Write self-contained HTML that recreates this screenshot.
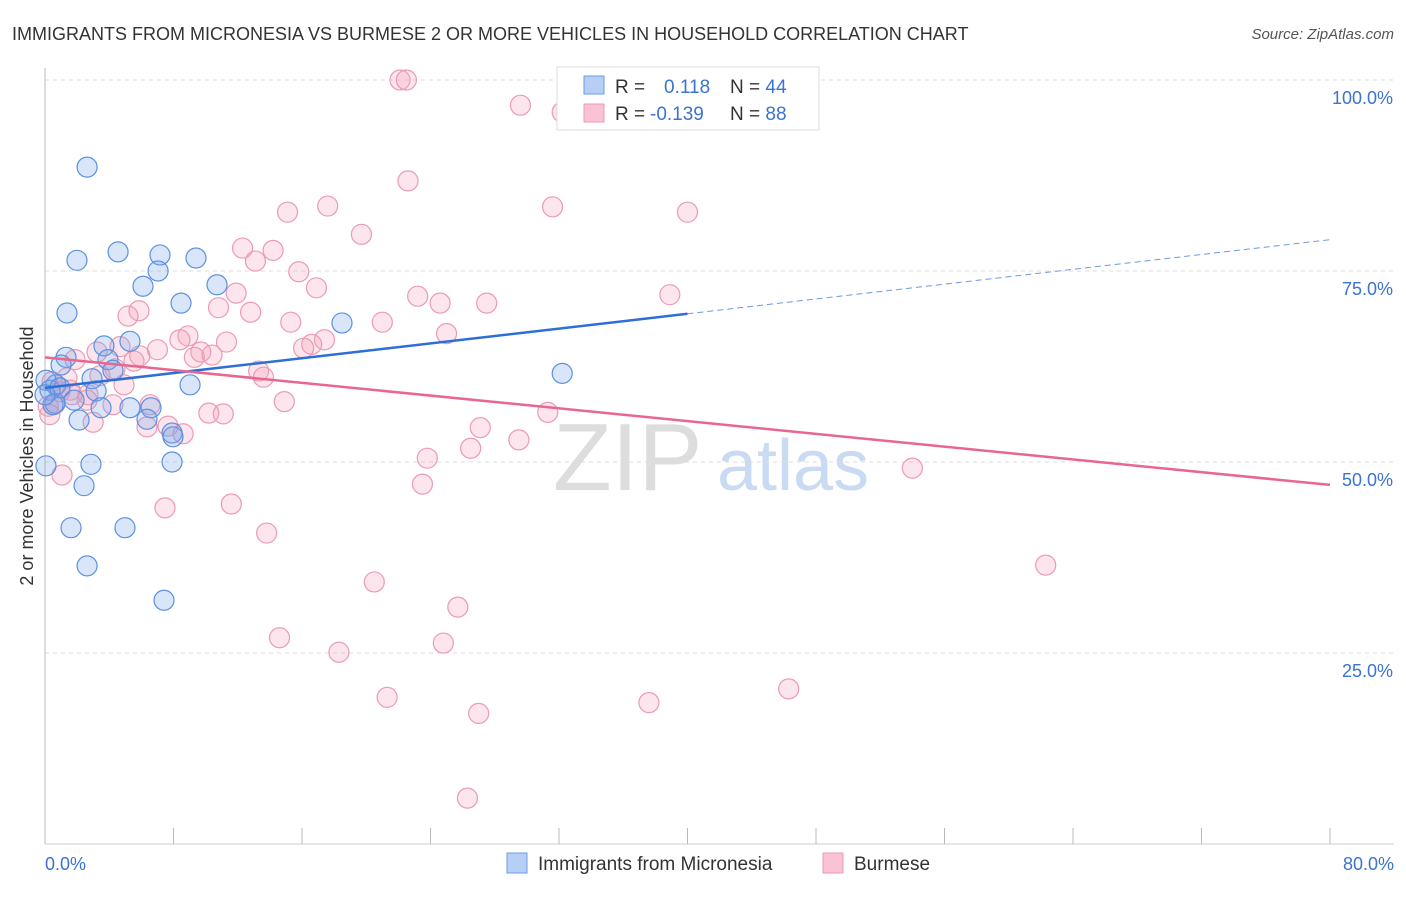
<!DOCTYPE html>
<html><head><meta charset="utf-8"><style>
body{margin:0;background:#fff;font-family:"Liberation Sans",sans-serif;}
svg text{font-family:"Liberation Sans",sans-serif;}
</style></head><body>
<svg id="chart" width="1406" height="892" viewBox="0 0 1406 892" xmlns="http://www.w3.org/2000/svg">
<text x="12" y="40" font-size="18" fill="#333">IMMIGRANTS FROM MICRONESIA VS BURMESE 2 OR MORE VEHICLES IN HOUSEHOLD CORRELATION CHART</text>
<text x="1394" y="39" font-size="15" fill="#555" font-style="italic" text-anchor="end">Source: ZipAtlas.com</text>
<g>
<text x="553" y="490" font-size="96" fill="#ddd" font-family="Liberation Serif">ZIP</text>
<text x="717" y="490" font-size="72" fill="#c9daf3">atlas</text>
</g>
<g id="grid"></g>
<g id="axes"></g>
<g id="marks"></g>
<text transform="translate(33,456) rotate(-90)" font-size="18" fill="#333" text-anchor="middle">2 or more Vehicles in Household</text>
<g>
<rect x="557" y="67" width="262" height="63" fill="#fff" stroke="#ddd"/>
<rect x="584" y="76" width="20" height="18" fill="#b7cff5" stroke="#6b9be6"/>
<rect x="584" y="104" width="20" height="18" fill="#f9c3d3" stroke="#ee9ab5"/>
<text x="615" y="93" font-size="19" fill="#333">R = <tspan fill="#3a73d0" x="664">0.118</tspan><tspan x="730">N = </tspan><tspan fill="#3a73d0">44</tspan></text>
<text x="615" y="120" font-size="19" fill="#333">R = <tspan fill="#3a73d0" x="650">-0.139</tspan><tspan x="730">N = </tspan><tspan fill="#3a73d0">88</tspan></text>
</g>
<g>
<rect x="507" y="853" width="20" height="20" fill="#b7cff5" stroke="#6b9be6"/>
<text x="538" y="870" font-size="19" fill="#333">Immigrants from Micronesia</text>
<rect x="823" y="853" width="20" height="20" fill="#f9c3d3" stroke="#ee9ab5"/>
<text x="854" y="870" font-size="19" fill="#333">Burmese</text>
</g>
</svg>
<script>
const blueX=[2.62,1.99,4.55,7.16,9.40,7.04,6.10,10.71,8.47,1.37,18.49,5.29,3.67,1.31,1.0,3.92,4.23,2.93,3.18,0.68,0.31,0.06,9.03,32.2,0.62,1.81,3.49,5.29,6.60,6.35,2.12,7.91,7.97,2.86,7.91,0.06,2.43,1.62,4.98,2.62,7.41,0.93,0.5,0.0];
const blueY=[88.6,76.4,77.5,77.1,76.7,75.0,73.0,73.2,70.8,69.5,68.2,65.8,65.2,63.7,62.7,63.4,62.0,60.9,59.3,60.1,59.4,60.7,60.1,61.6,57.7,58.1,57.1,57.1,57.1,55.6,55.5,53.8,53.3,49.7,50.0,49.5,46.9,41.4,41.4,36.4,31.9,59.7,57.5,58.8];
const pinkX=[22.1,22.5,29.6,32.2,22.6,15.1,17.6,31.6,40.0,19.7,12.3,14.2,13.1,15.8,16.9,11.9,23.2,27.5,24.6,38.9,10.8,12.8,5.85,5.17,15.3,21.0,25.0,8.9,11.3,17.4,16.6,16.1,7.0,8.4,3.24,9.7,9.3,10.4,5.54,4.36,13.3,13.6,1.37,4.92,1.56,2.62,2.68,4.23,6.54,0.62,0.2,14.9,10.2,11.1,31.3,3.0,7.66,6.35,8.6,27.1,29.5,26.5,23.8,54.0,23.5,1.06,7.47,11.6,13.8,62.3,20.5,25.7,14.6,24.8,18.3,46.3,21.3,37.6,27.0,26.3,0.93,1.68,0.44,3.42,5.9,4.67,1.87,0.3];
const pinkY=[100,100,96.7,95.8,86.8,82.7,83.5,83.4,82.7,79.8,78.0,77.7,76.3,74.9,72.8,72.1,71.7,70.8,70.8,71.9,70.2,69.6,69.8,69.1,68.3,68.3,66.8,66.5,65.7,66.0,65.4,64.9,64.7,66.0,64.4,64.4,63.7,64.0,63.2,62.2,61.9,61.1,61.0,60.1,59.4,58.1,58.8,57.5,57.5,57.6,57.3,57.9,56.4,56.3,56.5,55.2,54.7,54.6,53.7,54.5,52.9,51.8,50.5,49.2,47.1,48.3,44.0,44.5,40.7,36.5,34.3,31.0,27.0,26.3,25.1,20.3,19.2,18.5,17.1,6.0,59.2,58.8,60.5,61.3,63.9,65.1,63.4,56.2];
const blueTrend=[59.7,79.1];
const pinkTrend=[63.7,47.0];
const blueSolidEnd=40;
const yTicks=[25,50,75,100];
const yTickLabels=["25.0%","50.0%","75.0%","100.0%"];
const xTicks=[0,8,16,24,32,40,48,56,64,72,80];

const X0=45,X1=1330,Y0=844,Y1=80;
const sx=v=>X0+(v/80)*(X1-X0);
const sy=v=>Y0-(v/100)*(Y0-Y1);
const NS="http://www.w3.org/2000/svg";
function mk(tag,attrs,parent){const e=document.createElementNS(NS,tag);for(const k in attrs)e.setAttribute(k,attrs[k]);parent.appendChild(e);return e;}
const grid=document.getElementById('grid'),axes=document.getElementById('axes'),marks=document.getElementById('marks');
yTicks.forEach((t,i)=>{
  const l=mk('line',{x1:X0,x2:1394,y1:sy(t),y2:sy(t),stroke:'#ddd','stroke-dasharray':'4,4'},grid);
  
  
  const tx=mk('text',{x:1393,y:sy(t)+24,'font-size':18,fill:'#3a73d0','text-anchor':'end'},axes);
  tx.textContent=yTickLabels[i];
  
  
});
const ya=mk('line',{x1:X0,x2:X0,y1:68,y2:Y0,stroke:'#bbb'},axes);


const xa=mk('line',{x1:X0,x2:1394,y1:Y0,y2:Y0,stroke:'#ccc'},axes);


xTicks.forEach(t=>{
  const l=mk('line',{x1:sx(t),x2:sx(t),y1:828,y2:Y0,stroke:'#bbb'},axes);
  
  
});
const xl0=mk('text',{x:45,y:870,'font-size':18,fill:'#3a73d0'},axes);xl0.textContent='0.0%';


const xl1=mk('text',{x:1394,y:870,'font-size':18,fill:'#3a73d0','text-anchor':'end'},axes);xl1.textContent='80.0%';



pinkX.forEach((x,i)=>{
  const c=mk('circle',{cx:sx(x),cy:sy(pinkY[i]),r:10,fill:'rgba(244,160,188,0.28)',stroke:'#ec9ab4','stroke-width':1.2},marks);
  
  
});
blueX.forEach((x,i)=>{
  const c=mk('circle',{cx:sx(x),cy:sy(blueY[i]),r:10,fill:'rgba(120,165,235,0.28)',stroke:'#5d90e2','stroke-width':1.2},marks);
  
  
});
const by=x=>blueTrend[0]+(blueTrend[1]-blueTrend[0])*x/80;
const bt=mk('line',{x1:sx(0),y1:sy(by(0)),x2:sx(blueSolidEnd),y2:sy(by(blueSolidEnd)),stroke:'#2d6fd6','stroke-width':2.5},marks);


const bd=mk('line',{x1:sx(blueSolidEnd),y1:sy(by(blueSolidEnd)),x2:sx(80),y2:sy(by(80)),stroke:'#6b9be6','stroke-width':1,'stroke-dasharray':'6,4'},marks);


const pt=mk('line',{x1:sx(0),y1:sy(pinkTrend[0]),x2:sx(80),y2:sy(pinkTrend[1]),stroke:'#e8668f','stroke-width':2.5},marks);


</script>
</body></html>
